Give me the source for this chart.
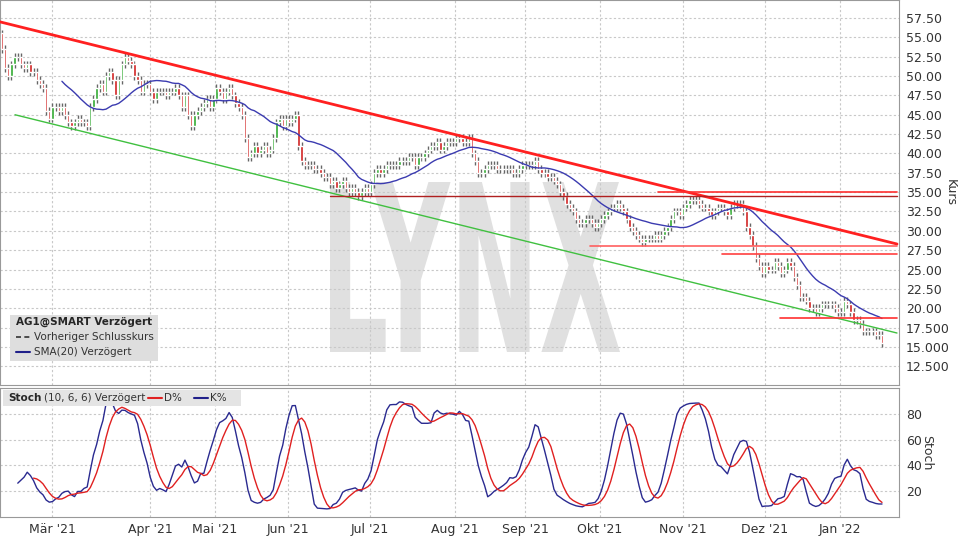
import numpy as np, pandas as pd, matplotlib
matplotlib.use("Agg")
import matplotlib.pyplot as plt, seaborn as sns
from matplotlib.textpath import TextPath
from matplotlib.patches import PathPatch
from matplotlib.transforms import Affine2D
from matplotlib.lines import Line2D
from matplotlib.font_manager import FontProperties

closes = [53.5,51,50,51.5,52.5,52.5,51.5,51,51.5,50.5,50.5,49.5,49,48.5,45.5,44.5,46,46,45.5,46,45,44,43.5,44,44.5,44,44,43.5,
 46,47,48.5,49,48,50,50.5,49.5,47.5,49.5,51.5,52.5,52,51.5,50,49.5,48,49,49,48,47,48,48,48,47.5,48,48,48.5,47.5,46,47.5,45,43.5,
 45,45.5,46,46.5,47,46,47,48.5,48,47,48,48.5,47.5,46.5,46,45,42,39.5,40,41,40,40.5,41,40,40.5,42,44,44.5,43.5,44.5,44,44.5,45,
 41,39,38.5,38.5,38.5,38,38,37.5,37,37,36,36.5,35.5,36,36.5,35.5,35,35.5,35,34.5,35,35.5,35,36,37.5,38,37.5,38,38.5,38.5,38.5,
 38.5,39,39,39,39.5,39.5,38.5,39.5,39.5,40,40.5,41,41,41.5,40.5,41,41.5,41.5,41.5,42,42,41.5,41.5,42,40,39,37.5,37.5,38,38.5,
 38.5,38.5,38,38,38,38,38,37.5,37.5,38,38.5,38.5,38.5,38.5,39,38,37.5,37.5,37,37,36.5,36,35,34.5,33.5,33,32.5,31.5,31,31,31.5,
 31.5,31,30.5,31,31.5,32,32.5,33,33,33.5,33,32.5,31.5,30.5,30,29.5,29,28.5,29,29,29,29.5,29,29.5,30,30.5,31.5,32.5,32.5,32,33,
 33.5,34,34,34,33.5,33,33,32.5,32,32.5,33,33,32.5,32,33,33.5,33.5,33.5,32.5,30.5,29.5,28,26.5,25.5,24.5,25.5,25,25,26,25.5,24.5,
 25,26,25.5,24,23,21.5,21.5,21,20,20,19.5,20,20.5,20.5,20.5,20.5,20,19.5,19.5,21,20.5,19.5,18.5,18.5,18,17,17,17,17,16.5,16.5,15.5]
month_labels = ["Mär '21","Apr '21","Mai '21","Jun '21","Jul '21","Aug '21","Sep '21","Okt '21","Nov '21","Dez '21","Jan '22"]
month_px = [52,150,215,288,370,455,525,600,683,765,840]
price_ticks = [57.5,55,52.5,50,47.5,45,42.5,40,37.5,35,32.5,30,27.5,25,22.5,20,17.5,15,12.5]
price_tick_labels = ["57.50","55.00","52.50","50.00","47.50","45.00","42.50","40.00","37.50","35.00","32.50","30.00",
                     "27.50","25.00","22.50","20.00","17.500","15.000","12.500"]
wick = 0.5

c = np.array(closes, float); n = len(c)
o = np.r_[c[0] + 2.0, c[:-1]]
hi = np.maximum(o, c) + wick; lo = np.minimum(o, c) - wick
df = pd.DataFrame({"i": np.arange(n), "close": c})
df["sma"] = df.close.rolling(20).mean()
hh = pd.Series(hi).rolling(10, min_periods=1).max(); ll = pd.Series(lo).rolling(10, min_periods=1).min()
raw = 100 * (df.close - ll) / (hh - ll)
df["K"] = raw.rolling(6).mean(); df["D"] = df.K.rolling(6).mean()

sc = (n - 1) / 880.0
px = lambda p: (p - 2) * sc

sns.set_style("white")
plt.rcParams['font.family'] = ['DejaVu Sans']
fig = plt.figure(figsize=(9.6, 5.4), dpi=100)

# watermark
tp = TextPath((0, 0), "LYNX", size=100, prop=FontProperties(family="DejaVu Sans", weight="bold"))
ext = tp.get_extents()
sx = 290 / ext.width; sy = 170 / ext.height
tr = Affine2D().translate(-ext.x0, -ext.y0).scale(sx, sy).translate(330, 540 - 352)
fig.patches.append(PathPatch(tr.transform_path(tp), transform=None, facecolor="#e0e0e0", edgecolor="none", zorder=-1))

ax = fig.add_axes([0, 1 - 385/540, 899/960, 385/540])
ax2 = fig.add_axes([0, 23/540, 899/960, 129/540])
ax.patch.set_alpha(0)
xl = (px(0), px(899))
for a in (ax, ax2):
    a.set_xlim(*xl)
    for s in a.spines.values(): s.set_color("#999999")
    for m in month_px: a.axvline(px(m), color="#c8c8c8", ls=(0, (2, 2)), lw=0.8, zorder=0)
    a.yaxis.tick_right(); a.yaxis.set_label_position("right")
    a.tick_params(axis="y", length=0, labelsize=9, colors="#333333", pad=5)

ax.set_ylim(57.5 - 367/7.74, 57.5 + 18/7.74)
ax.set_yticks(price_ticks); ax.set_yticklabels(price_tick_labels)
for t in price_ticks: ax.axhline(t, color="#c8c8c8", ls=(0, (2, 2)), lw=0.8, zorder=0)
ax.set_xticks([])

up = c >= o
idx = np.arange(n)
ax.vlines(idx, lo, hi, color="#666666", lw=1.0, zorder=2)
ax.bar(idx[up], (c - o)[up], bottom=o[up], width=0.75, color="#2ea82e", zorder=3)
ax.bar(idx[~up], (c - o)[~up], bottom=o[~up], width=0.75, color="#d01f1f", zorder=3)
sns.lineplot(data=df, x="i", y="sma", ax=ax, color="#3b3bb0", lw=1.0, zorder=4)

ax.plot([px(0), px(897)], [57.0, 28.3], color="#ff2020", lw=2, zorder=5)
ax.plot([px(15), px(897)], [45.0, 16.8], color="#40c040", lw=1, zorder=5)
ax.plot([px(330), px(897)], [34.5, 34.5], color="#b02020", lw=1, zorder=5)
ax.plot([px(658), px(897)], [35.0, 35.0], color="#ff3030", lw=1.2, zorder=5)
ax.plot([px(590), px(897)], [28.0, 28.0], color="#ff6060", lw=1.2, zorder=5)
ax.plot([px(722), px(897)], [27.0, 27.0], color="#ff4040", lw=1.2, zorder=5)
ax.plot([px(780), px(897)], [18.7, 18.7], color="#ff3030", lw=1.2, zorder=5)
ax.set_xlabel(""); ax.set_ylabel("Kurs", rotation=270, labelpad=5, fontsize=9, color="#333333")

ax2.set_ylim(-0.3, 100.3)
ax2.set_yticks([20, 40, 60, 80])
for t in [20, 40, 60, 80]: ax2.axhline(t, color="#c8c8c8", ls=(0, (2, 2)), lw=0.8, zorder=0)
sns.lineplot(data=df, x="i", y="K", ax=ax2, color="#2a2a90", lw=1.0)
sns.lineplot(data=df, x="i", y="D", ax=ax2, color="#e02020", lw=1.0)
ax2.set_xlabel(""); ax2.set_ylabel("Stoch", rotation=270, labelpad=8, fontsize=9, color="#333333")
ax2.set_xticks([px(m) for m in month_px]); ax2.set_xticklabels(month_labels, fontsize=9, color="#333333")
ax2.tick_params(axis="x", length=0, pad=4)

fx = lambda p: p / 960; fy = lambda p: 1 - p / 540
fig.patches.append(plt.Rectangle((fx(10), fy(361)), 148/960, 46/540, transform=fig.transFigure,
                                 facecolor="#dedede", edgecolor="none", zorder=5))
fig.text(fx(16), fy(322), "AG1@SMART Verzögert", fontsize=7.5, fontweight="bold", va="center", zorder=6)
fig.text(fx(34), fy(337), "Vorheriger Schlusskurs", fontsize=7.5, va="center", color="#333333", zorder=6)
fig.text(fx(34), fy(352), "SMA(20) Verzögert", fontsize=7.5, va="center", color="#333333", zorder=6)
fig.add_artist(Line2D([fx(16), fx(30)], [fy(337)] * 2, color="#333333", lw=1.2, ls=(0, (3, 2)), zorder=6))
fig.add_artist(Line2D([fx(16), fx(30)], [fy(352)] * 2, color="#20208a", lw=1.5, zorder=6))

fig.patches.append(plt.Rectangle((fx(3), fy(406)), 238/960, 16/540, transform=fig.transFigure,
                                 facecolor="#e4e4e4", edgecolor="none", zorder=5))
fig.text(fx(8), fy(398), "Stoch", fontsize=7.5, va="center", fontweight="bold", zorder=6)
fig.text(fx(44), fy(398), "(10, 6, 6) Verzögert", fontsize=7.5, va="center", color="#333333", zorder=6)
fig.text(fx(164), fy(398), "D%", fontsize=7.5, va="center", color="#333333", zorder=6)
fig.text(fx(210), fy(398), "K%", fontsize=7.5, va="center", color="#333333", zorder=6)
fig.add_artist(Line2D([fx(148), fx(162)], [fy(398)] * 2, color="#e02020", lw=1.5, zorder=6))
fig.add_artist(Line2D([fx(194), fx(208)], [fy(398)] * 2, color="#20208a", lw=1.5, zorder=6))
fig.savefig("out.png", dpi=100)
